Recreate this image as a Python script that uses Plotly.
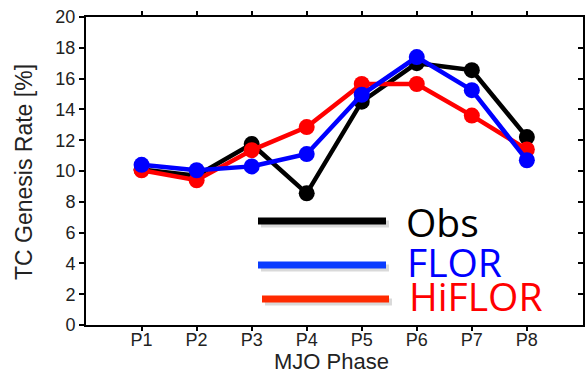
import plotly.graph_objects as go

phases = ["P1", "P2", "P3", "P4", "P5", "P6", "P7", "P8"]
phase_x = [1, 2, 3, 4, 5, 6, 7, 8]
obs = [10.1, 9.7, 11.75, 8.55, 14.5, 17.0, 16.55, 12.2]
flor = [10.4, 10.05, 10.3, 11.1, 14.95, 17.4, 15.25, 10.7]
hiflor = [10.05, 9.4, 11.35, 12.85, 15.65, 15.65, 13.6, 11.4]
yticks = [0, 2, 4, 6, 8, 10, 12, 14, 16, 18, 20]

fig = go.Figure()
for vals, col in [(obs, "black"), (hiflor, "#ff0000"), (flor, "#0000ff")]:
    fig.add_trace(go.Scatter(x=phase_x, y=vals, mode="lines+markers",
                             line=dict(color=col, width=4.5),
                             marker=dict(color=col, size=16),
                             showlegend=False, cliponaxis=False))
# invisible trace for right-side axis
fig.add_trace(go.Scatter(x=[phase_x[0]], y=[yticks[0]], yaxis="y2", mode="markers",
                         marker=dict(opacity=0), showlegend=False, hoverinfo="skip"))

font_ax = "Liberation Sans, Arial, sans-serif"
fig.update_layout(
    width=586, height=374,
    margin=dict(l=86, r=3, t=17, b=49),
    plot_bgcolor="white", paper_bgcolor="white",
    xaxis=dict(range=[-0.01, 9.02], tickvals=phase_x, ticktext=phases, automargin=False,
               showline=True, linecolor="black", linewidth=2, mirror="ticks",
               ticks="outside", ticklen=4, tickwidth=1.5, tickcolor="black",
               ticklabelstandoff=-7,
               showgrid=False, zeroline=False,
               tickfont=dict(family=font_ax, size=18, color="#222")),
    yaxis=dict(range=[0, 20], tickvals=yticks, automargin=False,
               showline=True, linecolor="black", linewidth=2, mirror=True,
               ticks="outside", ticklen=5, tickwidth=1.5, tickcolor="black",
               showgrid=False, zeroline=False,
               tickfont=dict(family=font_ax, size=18, color="#222")),
    yaxis2=dict(range=[0, 20], tickvals=yticks, overlaying="y", side="right", automargin=False,
                ticks="inside", ticklen=5, tickwidth=1.5, tickcolor="black",
                showticklabels=False, showgrid=False, zeroline=False, showline=False),
)

W, H = 497.0, 308.0
# axis titles
fig.add_annotation(xref="paper", yref="paper", x=(331 - 86) / W, y=(325 - 361) / H,
                   text="MJO Phase", showarrow=False, xanchor="center", yanchor="middle",
                   font=dict(family=font_ax, size=22, color="#222"))
fig.add_annotation(xref="paper", yref="paper", x=(24 - 86) / W, y=(325 - 172) / H,
                   text="TC Genesis Rate [%]", showarrow=False, textangle=-90,
                   xanchor="center", yanchor="middle",
                   font=dict(family=font_ax, size=23, color="#222"))

# custom legend
leg = [("black", 258, 386, 221),
       ("#0a3cff", 258, 386, 265),
       ("#ff2a00", 262, 389, 299)]
for lc, xa, xb, yy in leg:
    x0p, x1p = (xa - 86) / W, (xb - 86) / W
    yp = (325 - yy) / H
    fig.add_shape(type="line", xref="paper", yref="paper",
                  x0=x0p + 0.006, x1=x1p + 0.006, y0=yp - 0.01, y1=yp - 0.01,
                  line=dict(color="rgba(0,0,0,0.15)", width=7))
    fig.add_shape(type="line", xref="paper", yref="paper",
                  x0=x0p, x1=x1p, y0=yp, y1=yp,
                  line=dict(color=lc, width=7))

labels = [("Obs", "black", 404, 221), ("FLOR", "#0000ff", 405, 261), ("HiFLOR", "#ff0000", 407, 295)]
for txt, tc, xx, yy in labels:
    fig.add_annotation(xref="paper", yref="paper", x=(xx - 86) / W, y=(325 - yy) / H, text=txt,
                       showarrow=False, xanchor="left", yanchor="middle",
                       font=dict(family="Open Sans, sans-serif", size=39, color=tc))

fig.write_html("out.html", config={"displayModeBar": False},
               post_script="document.body.style.margin='0';document.body.style.overflow='hidden';")
